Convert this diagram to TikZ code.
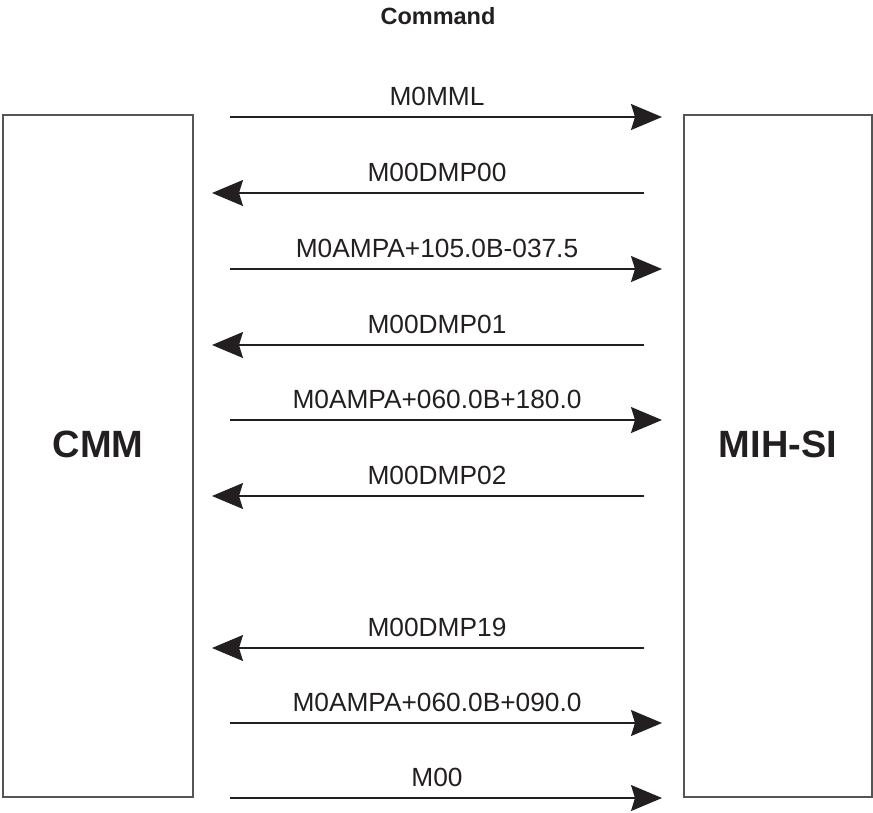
\documentclass[tikz,border=0pt]{standalone}
\usepackage{fontspec}
\setmainfont{Liberation Sans}
\usetikzlibrary{arrows.meta}
\definecolor{ink}{HTML}{231F20}
\definecolor{edge}{HTML}{555555}
\begin{document}
\begin{tikzpicture}[x=1pt,y=-1pt,
  box/.style={draw=edge,line width=1.1pt,minimum width=190pt,minimum height=682pt,inner sep=0pt,text=ink},
  msg/.style={draw=ink,line width=1.3pt,-{Stealth[length=31pt,width=26pt,inset=4pt,fill=ink]}},
  lbl/.style={anchor=base,text=ink,inner sep=0pt,font=\fontsize{26.3}{30}\selectfont}]
\useasboundingbox (0,0) rectangle (873,812);
\node[anchor=base,text=ink,inner sep=0pt,font=\bfseries\fontsize{23.5}{28}\selectfont] (title) at (438,24) {Command};
\node[box] (cmm) at (98,456) {};
\node[text=ink,font=\bfseries\fontsize{38}{44}\selectfont,anchor=base,inner sep=0pt] (cmmlbl) at (98,457) {CMM};
\node[box,minimum width=188pt] (mih) at (778,456) {};
\node[text=ink,font=\bfseries\fontsize{38}{44}\selectfont,anchor=base,inner sep=0pt] (mihlbl) at (778,457) {MIH-SI};
% right-pointing messages
\foreach \y/\t [count=\i] in {117/M0MML, 269/M0AMPA+105.0B-037.5, 420/M0AMPA+060.0B+180.0, 723/M0AMPA+060.0B+090.0, 798/M00}{
  \coordinate (r\i s) at (230,\y);
  \coordinate (r\i e) at (662,\y);
  \draw[msg] (r\i s) -- (r\i e);
  \node[lbl] (r\i l) at (437,\y-12) {\t};
}
% left-pointing messages
\foreach \y/\t [count=\i] in {193/M00DMP00, 345/M00DMP01, 496/M00DMP02, 648/M00DMP19}{
  \coordinate (l\i s) at (644,\y);
  \coordinate (l\i e) at (212,\y);
  \draw[msg] (l\i s) -- (l\i e);
  \node[lbl] (l\i l) at (437,\y-12) {\t};
}
\end{tikzpicture}
\end{document}
